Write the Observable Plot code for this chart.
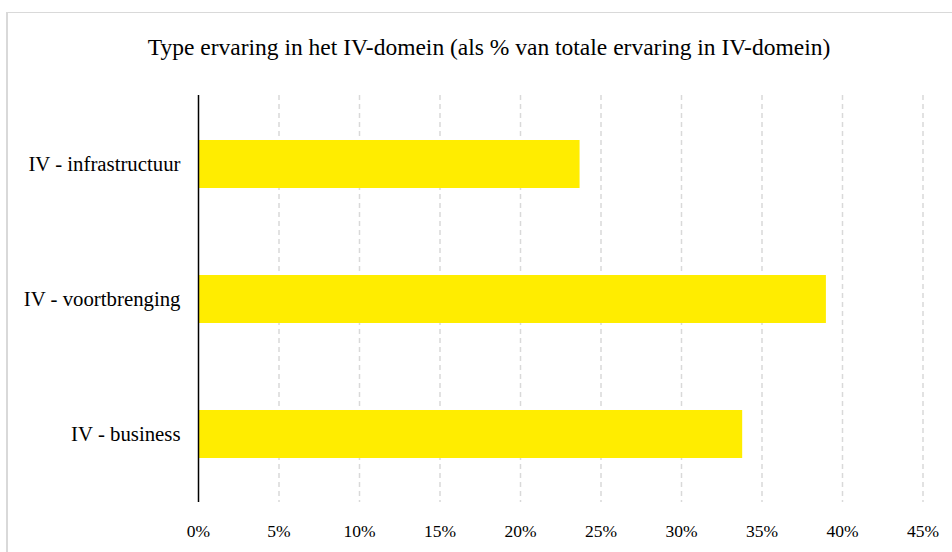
<!DOCTYPE html>
<html>
<head>
<meta charset="utf-8">
<script src="https://cdn.jsdelivr.net/npm/d3@7"></script>
<script src="https://cdn.jsdelivr.net/npm/@observablehq/plot@0.6"></script>
<style>
  html, body { margin: 0; padding: 0; background: #fff; }
  body { width: 952px; height: 552px; position: relative; overflow: hidden; font-family: "Liberation Serif", serif; }
  #frame { position: absolute; left: 6px; top: 12px; width: 1000px; height: 600px; border-left: 2px solid #d9d9d9; border-top: 1.5px solid #d9d9d9; box-sizing: border-box; }
  #title { position: absolute; left: 0; top: 32px; width: 978px; text-align: center; font-size: 23.5px; line-height: 30px; color: #000; white-space: nowrap; }
  #chart { position: absolute; left: 0; top: 0; }
</style>
</head>
<body>
<div id="frame"></div>
<div id="chart"></div>
<div id="title">Type ervaring in het IV-domein (als % van totale ervaring in IV-domein)</div>
<script>
const categories = ["IV - infrastructuur", "IV - voortbrenging", "IV - business"];
const values = [0.237, 0.390, 0.338];
const xTicks = [0, 0.05, 0.10, 0.15, 0.20, 0.25, 0.30, 0.35, 0.40, 0.45];
const gridTicks = [0.05, 0.10, 0.15, 0.20, 0.25, 0.30, 0.35, 0.40, 0.45];

const data = categories.map((c, i) => ({category: c, value: values[i]}));

const chart = Plot.plot({
  width: 952,
  height: 552,
  marginLeft: 198,
  marginRight: 29.5,
  marginTop: 95,
  marginBottom: 50,
  style: {fontFamily: "'Liberation Serif', serif", background: "transparent", color: "#000"},
  x: {domain: [0, 0.45], axis: null},
  y: {domain: categories, paddingInner: 0.646, paddingOuter: 0.323, axis: null},
  marks: [
    Plot.ruleX(gridTicks, {stroke: "#d9d9d9", strokeWidth: 1.5, strokeDasharray: "5,4"}),
    Plot.barX(data, {x: "value", y: "category", fill: "#FFED00"}),
    Plot.ruleX([0], {stroke: "#000", strokeWidth: 1.5}),
    Plot.axisY({tickSize: 0, tickPadding: 18, fontSize: 20.8, label: null}),
    Plot.axisX(xTicks, {tickSize: 0, tickPadding: 22, fontSize: 17.5, label: null, tickFormat: d => Math.round(d * 100) + "%"})
  ]
});
document.getElementById("chart").appendChild(chart);
</script>
</body>
</html>
